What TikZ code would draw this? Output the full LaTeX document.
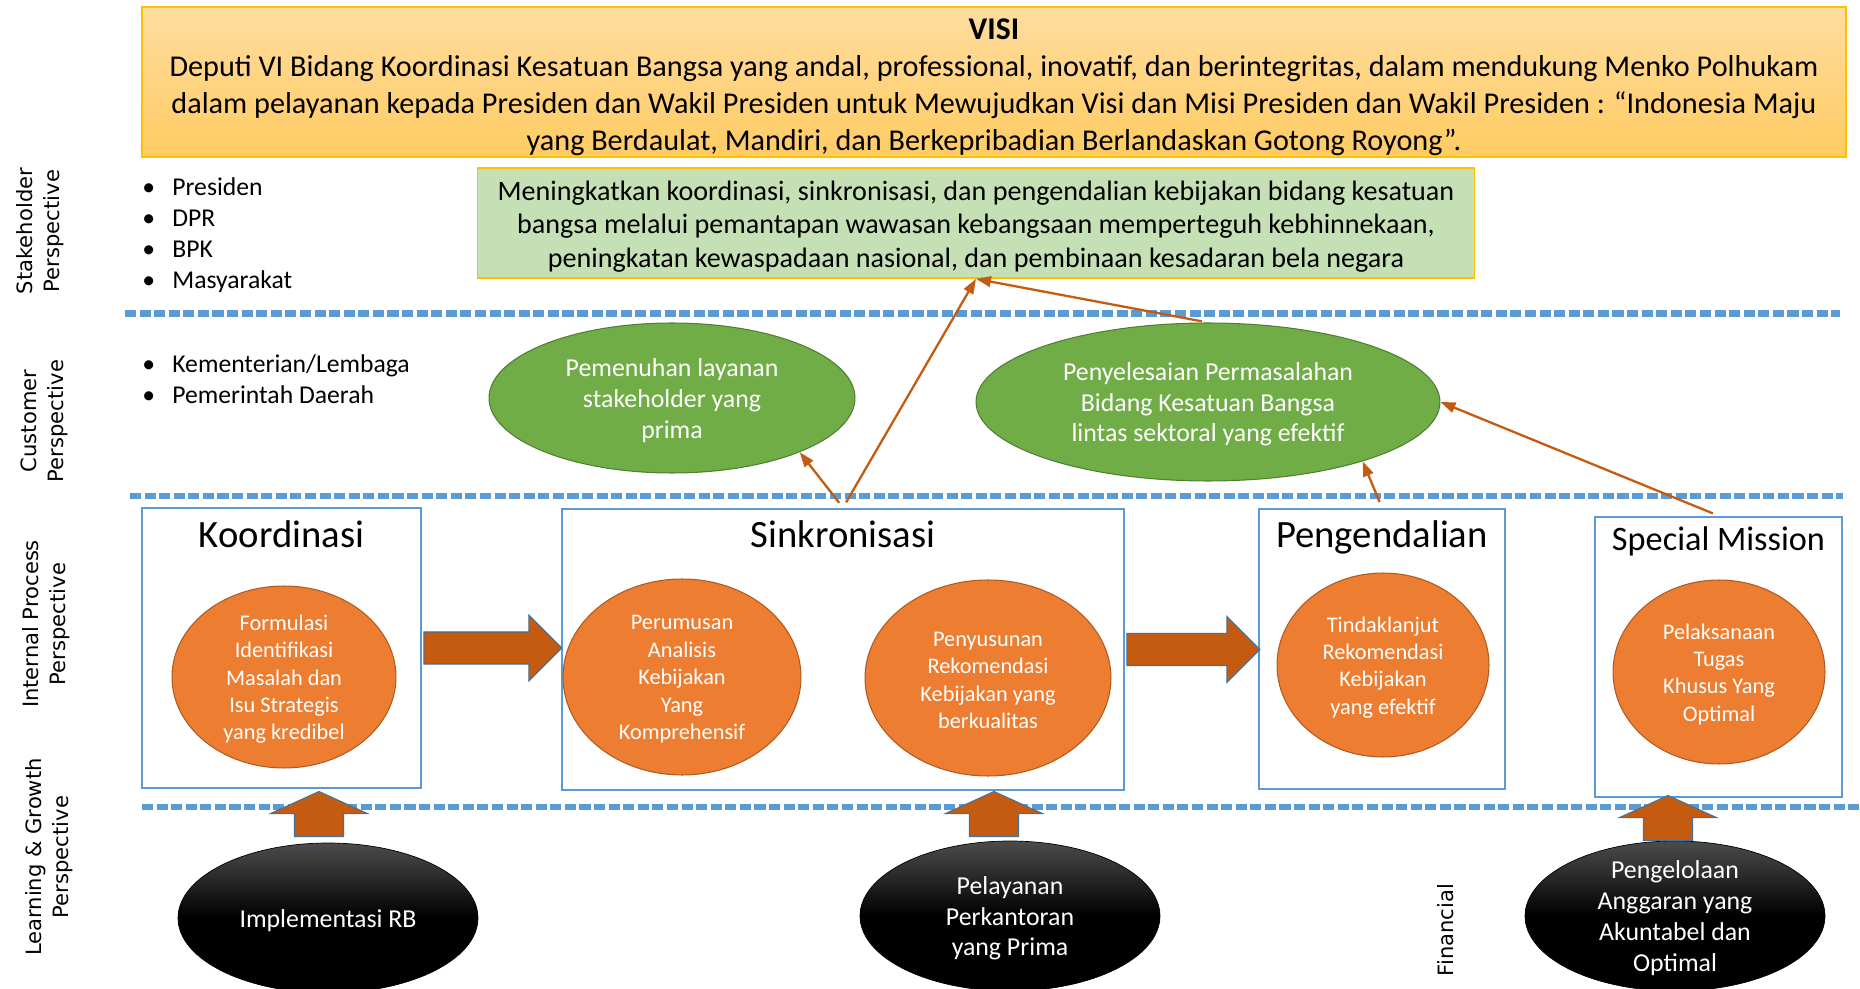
\documentclass[tikz,border=0pt]{standalone}
\usepackage{fontspec}
\setmainfont{Carlito}
\newfontfamily\persfont{DejaVu Sans}
\usetikzlibrary{shapes.geometric,shapes.arrows,arrows.meta,calc}

\definecolor{boxblue}{HTML}{5B9BD5}
\definecolor{visitop}{HTML}{FFDDA0}
\definecolor{visibot}{HTML}{FFCB62}
\definecolor{gold}{HTML}{FFC000}
\definecolor{misigreen}{HTML}{C5E0B4}
\definecolor{ellgreen}{HTML}{70AD47}
\definecolor{ellgreenline}{HTML}{507E32}
\definecolor{ellorange}{HTML}{ED7D31}
\definecolor{ellorangeline}{HTML}{AE5A21}
\definecolor{rust}{HTML}{C55A11}
\definecolor{arrowline}{HTML}{41719C}

\tikzset{
  sepline/.style={boxblue, line width=3.8pt, dash pattern=on 6.3pt off 2pt},
  procbox/.style={draw=boxblue, line width=1.5pt, fill=white, inner sep=0pt},
  boxtitle/.style={font=\fontsize{22}{26}\selectfont, inner sep=0pt, anchor=base},
  goalell/.style={ellipse, draw=ellgreenline, line width=0.6pt, fill=ellgreen, inner sep=0pt},
  procell/.style={ellipse, draw=ellorangeline, line width=0.6pt, fill=ellorange, inner sep=0pt},
  baseell/.style={ellipse, draw=black, top color=black!70, bottom color=black, middle color=black,
    inner sep=0pt, minimum width=6cm, minimum height=3cm},
  goaltxt/.style={align=center, text=white, yshift=-1.3pt, font=\fontsize{14.7}{17.6}\selectfont},
  proctxt/.style={align=center, text=white, yshift=-1.3pt, font=\fontsize{12.7}{15.6}\selectfont},
  basetxt/.style={align=center, text=white, yshift=-1.3pt, font=\fontsize{14.7}{17.6}\selectfont},
  blockarrow/.style={single arrow, fill=rust, draw=arrowline, line width=0.6pt, inner xsep=0pt, minimum width=0pt},
  uparrow/.style={blockarrow, rotate=90, anchor=tail, inner ysep=0.48cm, single arrow head extend=0.48cm,
    single arrow tip angle=131, minimum height=0.9cm},
  link/.style={rust, line width=1.3pt, shorten <=3.5pt, -{Triangle[length=8.5pt,width=6pt]}},
  persp/.style={rotate=90, align=center, inner sep=0pt, font=\persfont\fontsize{12}{15.5}\selectfont},
  pitems/.style={align=left, inner sep=0pt, font=\fontsize{14.6}{17.6}\selectfont},
}
\newcommand{\pitem}[1]{\makebox[0.6cm][l]{\textbullet}#1}

\begin{document}
\begin{tikzpicture}[x=0.02cm, y=-0.02cm]
    % Page
    \fill[white] (0,0) rectangle (1860,989);
    \useasboundingbox (0,0) rectangle (1860,989);

    % Visi and misi
    \node[draw=gold, line width=1pt, top color=visitop, bottom color=visibot, inner sep=0pt,
      minimum width=34.08cm, minimum height=3cm,
      label={[align=center, yshift=-3pt, font=\fontsize{17.2}{21}\selectfont]center:{%
       {\fontsize{18}{21}\selectfont\bfseries VISI}\\
       Deputi VI Bidang Koordinasi Kesatuan Bangsa yang andal, professional, inovatif, dan berintegritas, dalam mendukung Menko Polhukam\\
       dalam pelayanan kepada Presiden dan Wakil Presiden untuk Mewujudkan Visi dan Misi Presiden dan Wakil Presiden : “Indonesia Maju\\
       yang Berdaulat, Mandiri, dan Berkepribadian Berlandaskan Gotong Royong”.}}] (visi) at (994,82) {};
    \node[draw=gold, line width=1pt, fill=misigreen, inner sep=0pt,
      minimum width=19.94cm, minimum height=2.2cm,
      label={[align=center, yshift=-2pt, font=\fontsize{16}{18.9}\selectfont]center:{%
       Meningkatkan koordinasi, sinkronisasi, dan pengendalian kebijakan bidang kesatuan\\
       bangsa melalui pemantapan wawasan kebangsaan memperteguh kebhinnekaan,\\
       peningkatan kewaspadaan nasional, dan pembinaan kesadaran bela negara}}] (misi) at (976,223) {};

    % Separators
    \draw[sepline] (125,313.5) -- (1840,313.5);
    \draw[sepline] (130,496) -- (1843,496);
    \draw[sepline] (142,807) -- (1860,807);

    % Perspectives
    \node[persp] (lstake) at (40,231) {Stakeholder\\Perspective};
    \node[persp] (lcust) at (44,421) {Customer\\Perspective};
    \node[persp] (lint) at (46,624) {Internal Process\\Perspective};
    \node[persp] (llearn) at (49,857) {Learning \& Growth\\Perspective};
    \node[persp] (lfin) at (1446,930) {Financial};

    \node[pitems, anchor=west] (stake) at (142,235)
      {\pitem{Presiden}\\ \pitem{DPR}\\ \pitem{BPK}\\ \pitem{Masyarakat}};
    \node[pitems, anchor=west] (cust) at (142,379)
      {\pitem{Kementerian/Lembaga}\\ \pitem{Pemerintah Daerah}};

    % Customer goals
    \node[goalell, minimum width=7.32cm, minimum height=3cm,
      label={[goaltxt]center:{Pemenuhan layanan\\stakeholder yang\\prima}}] (pemenuhan) at (672,398) {};
    \node[goalell, minimum width=9.28cm, minimum height=3.16cm,
      label={[goaltxt]center:{Penyelesaian Permasalahan\\Bidang Kesatuan Bangsa\\lintas sektoral yang efektif}}] (penyelesaian) at (1208,402) {};

    % Internal process
    \node[procbox, minimum width=5.58cm, minimum height=5.6cm] (koor) at (281.5,648) {};
    \node[procbox, minimum width=11.24cm, minimum height=5.62cm] (sink) at (843,649.5) {};
    \node[procbox, minimum width=4.92cm, minimum height=5.6cm] (peng) at (1382,649) {};
    \node[procbox, minimum width=4.94cm, minimum height=5.6cm] (spec) at (1718.5,657) {};
    \node[boxtitle] (koortitle) at ($(koor.north)+(0,41)$) {Koordinasi};
    \node[boxtitle] (sinktitle) at ($(sink.north)+(0,40)$) {Sinkronisasi};
    \node[boxtitle] (pengtitle) at ($(peng.north)+(0,40)$) {Pengendalian};
    \node[boxtitle, font=\fontsize{19.5}{23}\selectfont] (spectitle) at ($(spec.north)+(0,35)$) {Special Mission};

    \node[procell, minimum width=4.48cm, minimum height=3.64cm,
      label={[proctxt]center:{Formulasi\\Identifikasi\\Masalah dan\\Isu Strategis\\yang kredibel}}] (formulasi) at (284,677) {};
    \node[procell, minimum width=4.76cm, minimum height=3.92cm,
      label={[proctxt]center:{Perumusan\\Analisis\\Kebijakan\\Yang\\Komprehensif}}] (perumusan) at (682,677) {};
    \node[procell, minimum width=4.92cm, minimum height=3.92cm,
      label={[proctxt]center:{Penyusunan\\Rekomendasi\\Kebijakan yang\\berkualitas}}] (penyusunan) at (988,678) {};
    \node[procell, minimum width=4.24cm, minimum height=3.68cm,
      label={[proctxt]center:{Tindaklanjut\\Rekomendasi\\Kebijakan\\yang efektif}}] (tindak) at (1383,665) {};
    \node[procell, minimum width=4.24cm, minimum height=3.68cm,
      label={[proctxt]center:{Pelaksanaan\\Tugas\\Khusus Yang\\Optimal}}] (pelaksanaan) at (1719,672) {};

    \node[blockarrow, anchor=tail, inner ysep=0.31cm, single arrow head extend=0.34cm, minimum height=2.76cm]
      (flow1) at ([xshift=0.6pt]koor.east) {};
    \node[blockarrow, anchor=tail, inner ysep=0.31cm, single arrow head extend=0.34cm, minimum height=2.66cm]
      (flow2) at ([xshift=0.6pt]sink.east) {};

    % Learning & growth
    \node[baseell, label={[basetxt]center:Implementasi RB}] (rb) at (328,918) {};
    \node[baseell, label={[basetxt]center:{Pelayanan\\Perkantoran\\yang Prima}}] (kantor) at (1010,916) {};
    \node[baseell, label={[basetxt]center:{Pengelolaan\\Anggaran yang\\Akuntabel dan\\Optimal}}] (anggaran) at (1675,916) {};

    \node[uparrow] (up1) at (319,837) {};
    \node[uparrow] (up2) at (994,837) {};
    \node[uparrow] (up3) at (1668,841) {};

    % Links
    \draw[link] (sink.north) -- (pemenuhan.-23);
    \draw[link] (sink.north) -- (misi.south);
    \draw[link] (penyelesaian.north) -- (misi.south);
    \draw[link] (peng.north) -- (penyelesaian.-21);
    \draw[link] (spec.north) -- (penyelesaian.east);
\end{tikzpicture}
\end{document}
